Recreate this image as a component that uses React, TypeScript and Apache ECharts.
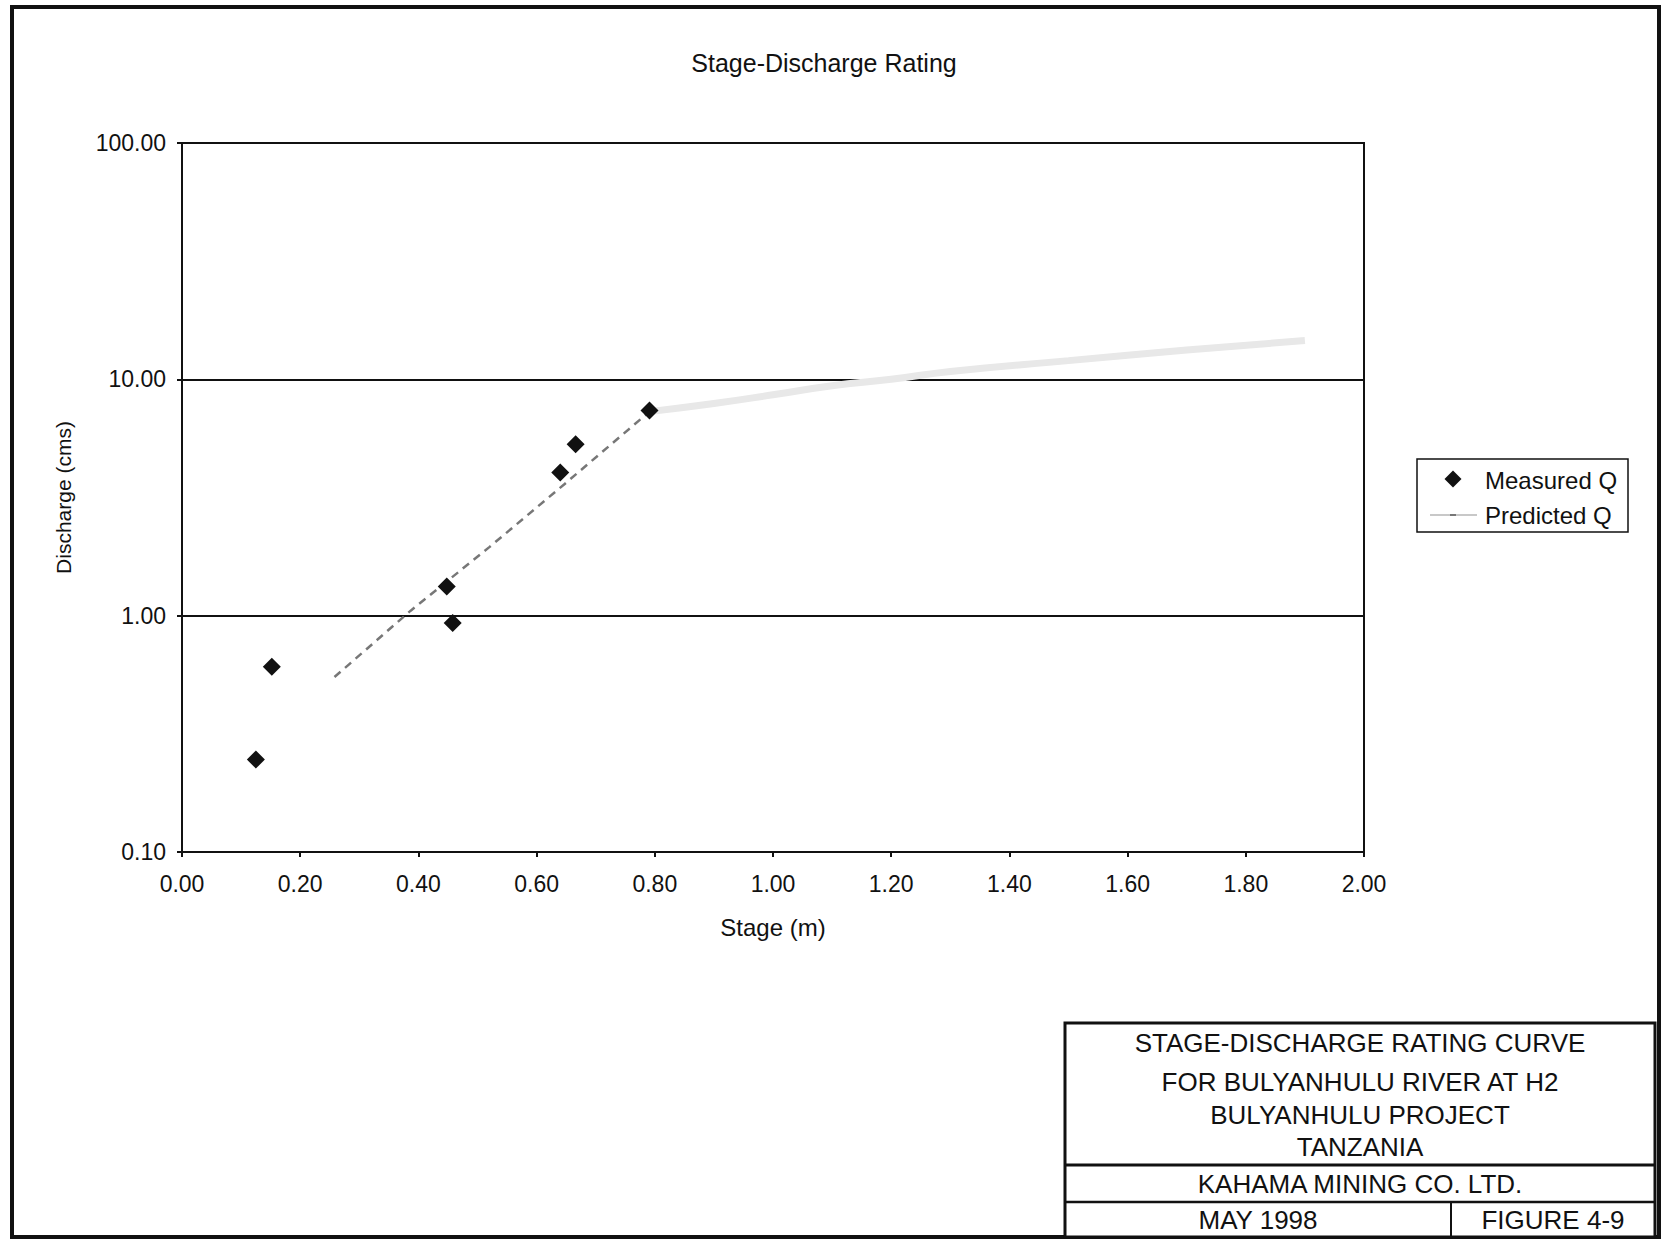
import React, { useEffect, useRef } from "react";
import * as echarts from "echarts";

// Measured stage-discharge points
const measuredStage = [0.125, 0.152, 0.448, 0.458, 0.64, 0.666, 0.791];
const measuredQ = [0.246, 0.608, 1.33, 0.93, 4.03, 5.31, 7.38];

// Dashed fitted segment
const fitStage = [0.258, 0.387, 0.52, 0.647, 0.791];
const fitQ = [0.55, 1.05, 1.95, 3.6, 7.3];

// Predicted Q (faint continuation)
const predStage = [0.791, 0.9, 1.0, 1.1, 1.2, 1.3, 1.5, 1.7, 1.9];
const predQ = [7.3, 7.9, 8.6, 9.4, 10.0, 10.8, 12.0, 13.3, 14.6];

// Axis ranges
const xRange = [0, 2];
const xStep = 0.2;
const yRange = [0.1, 100];

// Legend entries
const legendNames = ["Measured Q", "Predicted Q"];

// Title block text
const blockLines = [
  "STAGE-DISCHARGE RATING CURVE",
  "FOR BULYANHULU RIVER AT H2",
  "BULYANHULU PROJECT",
  "TANZANIA",
];
const company = "KAHAMA MINING CO. LTD.";
const dateText = "MAY 1998";
const figureText = "FIGURE 4-9";
const chartTitle = "Stage-Discharge Rating";

const FONT = "'Liberation Sans', Arial, Helvetica, sans-serif";
const INK = "#111111";
const PRED_COLOR = "#e8e8e8";

export default function App() {
  const ref = useRef<HTMLDivElement>(null);

  useEffect(() => {
    if (!ref.current) return;
    const chart = echarts.init(ref.current, undefined, { renderer: "svg" });

    const zip = (xs: number[], ys: number[]) => xs.map((x, i) => [x, ys[i]]);
    const blockY = [1043, 1082, 1115, 1147];
    const blockText = (text: string, x: number, y: number) => ({
      type: "text",
      x,
      y,
      style: {
        text,
        fontFamily: FONT,
        fontSize: 26,
        fill: INK,
        textAlign: "center",
        textVerticalAlign: "middle",
      },
    });
    const legendText = (text: string, y: number) => ({
      type: "text",
      x: 1485,
      y,
      style: {
        text,
        fontFamily: FONT,
        fontSize: 24,
        fill: INK,
        textAlign: "left",
        textVerticalAlign: "middle",
      },
    });

    const option: any = {
      animation: false,
      backgroundColor: "#ffffff",
      textStyle: { fontFamily: FONT, color: INK },
      grid: {
        left: 182,
        top: 143,
        width: 1182,
        height: 709,
        show: true,
        borderColor: INK,
        borderWidth: 2,
        backgroundColor: "transparent",
      },
      xAxis: {
        type: "value",
        min: xRange[0],
        max: xRange[1],
        interval: xStep,
        name: "Stage (m)",
        nameLocation: "middle",
        nameGap: 63,
        nameTextStyle: { fontFamily: FONT, fontSize: 24, color: INK },
        axisLine: { show: true, lineStyle: { color: INK, width: 2 } },
        axisTick: { show: true, inside: false, length: 5, lineStyle: { color: INK, width: 2 } },
        axisLabel: {
          fontFamily: FONT,
          fontSize: 23,
          color: INK,
          margin: 20,
          formatter: (v: number) => Number(v).toFixed(2),
        },
        splitLine: { show: false },
      },
      yAxis: {
        type: "log",
        logBase: 10,
        min: yRange[0],
        max: yRange[1],
        name: "Discharge (cms)",
        nameLocation: "middle",
        nameGap: 108,
        nameRotate: 90,
        nameTextStyle: { fontFamily: FONT, fontSize: 21, color: INK },
        axisLine: { show: true, lineStyle: { color: INK, width: 2 } },
        axisTick: { show: true, inside: false, length: 5, lineStyle: { color: INK, width: 2 } },
        axisLabel: {
          fontFamily: FONT,
          fontSize: 23,
          color: INK,
          margin: 16,
          formatter: (v: number) => Number(v).toFixed(2),
        },
        splitLine: { show: true, lineStyle: { color: INK, width: 2 } },
        minorTick: { show: false },
      },
      series: [
        {
          name: legendNames[1],
          type: "line",
          data: zip(predStage, predQ),
          symbol: "none",
          smooth: true,
          lineStyle: { color: PRED_COLOR, width: 7 },
          z: 2,
        },
        {
          name: "Fit",
          type: "line",
          data: zip(fitStage, fitQ),
          symbol: "none",
          lineStyle: { color: "#777", width: 2.5, type: [8, 6] },
          z: 3,
        },
        {
          name: legendNames[0],
          type: "scatter",
          data: zip(measuredStage, measuredQ),
          symbol: "diamond",
          symbolSize: 18,
          itemStyle: { color: INK, opacity: 1 },
          z: 5,
        },
      ],
      graphic: [
        {
          type: "rect",
          shape: { x: 12, y: 7, width: 1647, height: 1230 },
          style: { fill: "none", stroke: INK, lineWidth: 4 },
          silent: true,
        },
        {
          type: "text",
          x: 824,
          y: 63,
          style: {
            text: chartTitle,
            fontFamily: FONT,
            fontSize: 25,
            fill: INK,
            textAlign: "center",
            textVerticalAlign: "middle",
          },
        },
        // legend
        {
          type: "rect",
          shape: { x: 1417, y: 459, width: 211, height: 73 },
          style: { fill: "#fff", stroke: INK, lineWidth: 1.5 },
          z: 10,
        },
        {
          type: "polygon",
          shape: {
            points: [
              [1453, 470.5],
              [1461.5, 479],
              [1453, 487.5],
              [1444.5, 479],
            ],
          },
          style: { fill: INK },
          z: 11,
        },
        {
          type: "line",
          shape: { x1: 1430, y1: 515, x2: 1477, y2: 515 },
          style: { stroke: "#c8c8c8", lineWidth: 2 },
          z: 11,
        },
        {
          type: "line",
          shape: { x1: 1450, y1: 515, x2: 1456, y2: 515 },
          style: { stroke: "#777", lineWidth: 2 },
          z: 12,
        },
        { ...legendText(legendNames[0], 480), z: 11 },
        { ...legendText(legendNames[1], 515), z: 11 },
        // title block
        {
          type: "rect",
          shape: { x: 1065, y: 1023, width: 590, height: 214 },
          style: { fill: "#fff", stroke: INK, lineWidth: 3 },
        },
        {
          type: "line",
          shape: { x1: 1065, y1: 1165, x2: 1655, y2: 1165 },
          style: { stroke: INK, lineWidth: 3 },
        },
        {
          type: "line",
          shape: { x1: 1065, y1: 1202, x2: 1655, y2: 1202 },
          style: { stroke: INK, lineWidth: 2.5 },
        },
        {
          type: "line",
          shape: { x1: 1451, y1: 1202, x2: 1451, y2: 1237 },
          style: { stroke: INK, lineWidth: 2 },
        },
        ...blockLines.map((t, i) => blockText(t, 1360, blockY[i])),
        blockText(company, 1360, 1184),
        blockText(dateText, 1258, 1220),
        blockText(figureText, 1553, 1220),
      ],
    };

    chart.setOption(option);
    return () => chart.dispose();
  }, []);

  return (
    <div
      ref={ref}
      style={{ position: "absolute", left: 0, top: 0, width: 1662, height: 1240 }}
    />
  );
}
